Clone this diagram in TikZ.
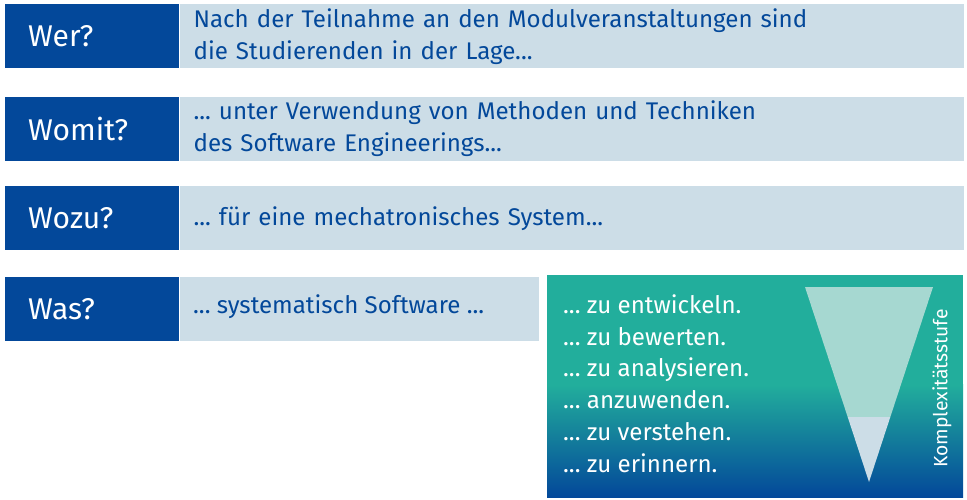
\documentclass[tikz,border=0pt]{standalone}
\usepackage{fontspec}
\setmainfont{Fira Sans}
\usepackage{tikz}
\usetikzlibrary{positioning}
\definecolor{unidunkel}{HTML}{03489A}
\definecolor{unihell}{HTML}{CCDDE7}
\definecolor{uniteal}{HTML}{22AE9C}
\definecolor{unimittel}{HTML}{127D9E}
\definecolor{trichter}{HTML}{A6D8D1}
\frenchspacing
\tikzset{frage/.style={fill=unidunkel,text=white,anchor=north west,inner xsep=23pt,inner ysep=0pt,minimum height=64pt,text width=128pt,align=left,font=\fontsize{30}{33}\selectfont}}
\tikzset{antwort/.style={fill=unihell,text=unidunkel,inner xsep=14pt,inner ysep=0pt,minimum height=64pt,text width=756pt,align=left,font=\fontsize{24.1}{32}\selectfont}}

\begin{document}
\begin{tikzpicture}[x=1pt,y=-1pt]
\useasboundingbox (0,0) rectangle (967,500);
\node[frage] (wer) at (5,4) {Wer?};
\node[antwort,right=0pt of wer] (werA) {Nach der Teilnahme an den Modulveranstaltungen sind\\die Studierenden in der Lage...};
\node[frage] (womit) at (5,96.5) {Womit?};
\node[antwort,right=0pt of womit] (womitA) {... unter Verwendung von Methoden und Techniken\\des Software Engineerings...};
\node[frage] (wozu) at (5,186) {Wozu?};
\node[antwort,right=0pt of wozu] (wozuA) {... für eine mechatronisches System...};
\node[frage] (was) at (5,276.5) {Was?};
\node[antwort,right=0pt of was,text width=331pt] (wasA) {};
\node[text=unidunkel,font=\fontsize{24.1}{32}\selectfont,anchor=base west,inner sep=0pt] (wasT) at (193,313.3) {... systematisch Software ...};
% Lernziele mit Verlauf
\fill[uniteal] (547,275) rectangle (963,385);
\shade[top color=uniteal,middle color=unimittel,bottom color=unidunkel] (547,384.5) rectangle (963,497);
\fill[trichter] (805,287) -- (933,287) -- (890.3,417) -- (847.7,417) -- cycle;
\fill[unihell] (847.7,417) -- (890.3,417) -- (869,482) -- cycle;
\node[text=white,font=\fontsize{24.1}{31.8}\selectfont,anchor=base west,inner sep=0pt,align=left] (ziele) at (563,472.3)
  {... zu entwickeln.\\... zu bewerten.\\... zu analysieren.\\... anzuwenden.\\... zu verstehen.\\... zu erinnern.};
\node[text=white,font=\fontsize{19.3}{20}\selectfont,rotate=90,inner sep=0pt] (stufe) at (942,388.5) {Komplexitätsstufe};
\end{tikzpicture}
\end{document}
